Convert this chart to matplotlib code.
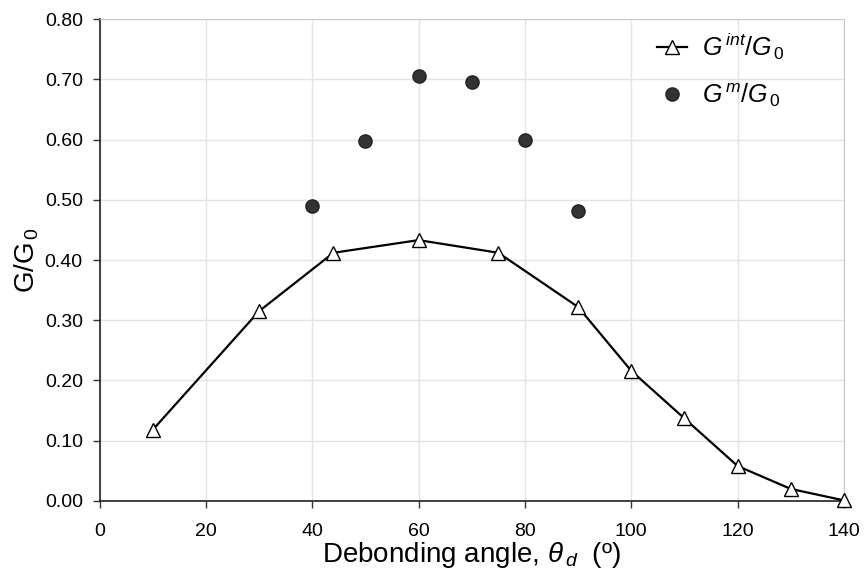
import matplotlib
matplotlib.use('Agg')
import matplotlib.pyplot as plt

# data
theta_int = [10, 30, 44, 60, 75, 90, 100, 110, 120, 130, 140]
g_int = [0.118, 0.315, 0.412, 0.433, 0.412, 0.322, 0.216, 0.137, 0.058, 0.020, 0.001]

theta_m = [40, 50, 60, 70, 80, 90]
g_m = [0.490, 0.598, 0.706, 0.696, 0.599, 0.481]

xticks = [0, 20, 40, 60, 80, 100, 120, 140]
yticks = [0.0, 0.1, 0.2, 0.3, 0.4, 0.5, 0.6, 0.7, 0.8]

plt.rcParams['font.family'] = ['Liberation Sans', 'DejaVu Sans']
plt.rcParams['mathtext.fontset'] = 'custom'
plt.rcParams['mathtext.rm'] = 'Liberation Sans'
plt.rcParams['mathtext.it'] = 'Liberation Sans:italic'
plt.rcParams['mathtext.bf'] = 'Liberation Sans:bold'

fig = plt.figure(figsize=(8.66, 5.85), dpi=100)
ax = fig.add_axes([0.1149, 0.1436, 0.8597, 0.8239])

ax.plot(theta_int, g_int, color='black', lw=1.6, marker='^', ms=10,
        mfc='white', mec='black', mew=1.0, label=r'$G^{\,int}/G_{\,0}$',
        zorder=3, clip_on=False)
ax.plot(theta_m, g_m, ls='none', marker='o', ms=9.5, mfc='#333333',
        mec='#222222', label=r'$G^{\,m}/G_{\,0}$', zorder=3)

ax.set_xlim(0, 140)
ax.set_ylim(0, 0.8)
ax.set_xticks(xticks)
ax.set_yticks(yticks)
ax.set_yticklabels(['%.2f' % v for v in yticks])
ax.tick_params(labelsize=14, length=5, width=1, direction='out', color='#333333')
ax.tick_params(axis='x', pad=11)
ax.tick_params(axis='y', pad=7)

ax.grid(True, color='#e3e3e3', lw=1)
ax.set_axisbelow(True)
for s in ['top', 'right']:
    ax.spines[s].set_color('#c8c8c8')
for s in ['left', 'bottom']:
    ax.spines[s].set_color('#222222')
    ax.spines[s].set_linewidth(1.2)

ax.set_xlabel(r'Debonding angle, $\theta_{\,d}$  (º)', fontsize=20, labelpad=0)
ax.set_ylabel(r'$\mathrm{G/G}_{\,0}$', fontsize=20, labelpad=3)

leg = ax.legend(loc='upper right', frameon=False, fontsize=18, handlelength=1.2,
                handletextpad=0.6, borderpad=0, borderaxespad=0,
                labelspacing=0.75, bbox_to_anchor=(0.92, 0.975))

fig.savefig('out.png', dpi=100)
